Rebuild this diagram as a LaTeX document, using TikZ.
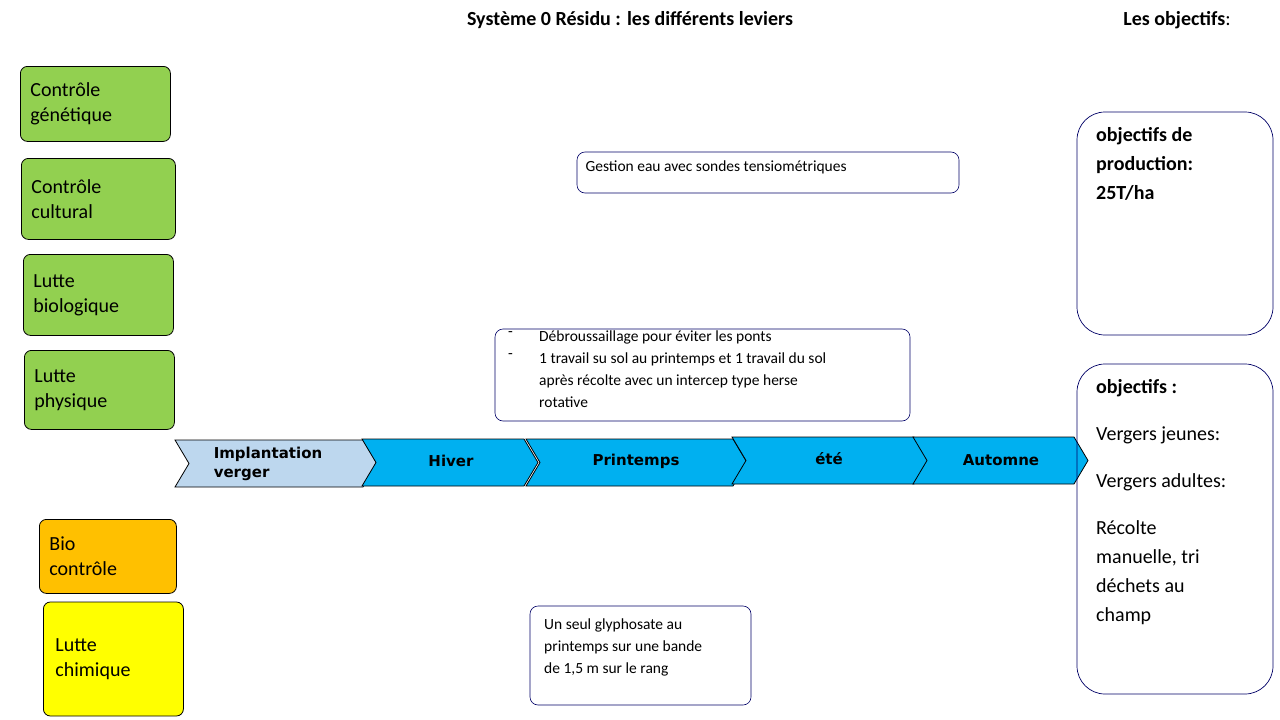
\documentclass[tikz,border=0pt]{standalone}
\usepackage{fontspec}
\setmainfont{Carlito}
\newfontfamily\verd{DejaVu Sans}
\begin{document}
\begin{tikzpicture}[x=1pt,y=-1pt,
  lev/.style={draw=black,rounded corners=7pt,line width=0.8pt,anchor=north west,align=left,font=\fontsize{20}{25}\selectfont,inner sep=10pt},
  note/.style={draw=black!60!blue,rounded corners=8pt,line width=0.6pt,anchor=north west,align=left,font=\fontsize{15.5}{22}\selectfont,inner sep=0pt},
  obj/.style={draw=black!60!blue,rounded corners=28pt,line width=0.7pt},
  chev/.style={draw=black,line width=0.8pt},
  ctext/.style={font=\verd\bfseries\fontsize{15}{19}\selectfont,align=left}]
\useasboundingbox (0,0) rectangle (1280,720);
\definecolor{lg}{RGB}{146,208,80}
\definecolor{lo}{RGB}{255,192,0}
\definecolor{ly}{RGB}{255,255,0}
\definecolor{cb}{RGB}{0,176,240}
\definecolor{pb}{RGB}{189,215,238}
\node[font=\bfseries\fontsize{20}{24}\selectfont] (title) at (630,20) {Système 0 Résidu : les différents leviers};
\node[font=\fontsize{20}{24}\selectfont] (lo) at (1177,20) {\textbf{Les objectifs}:};
% levers
\node[lev,fill=lg,minimum width=150,minimum height=75,text width=130] (g) at (20,66) {Contrôle\\génétique};
\node[lev,fill=lg,minimum width=154,minimum height=81,text width=134] (c) at (21,158) {Contrôle\\cultural};
\node[lev,fill=lg,minimum width=150,minimum height=81,text width=130] (b) at (23,254) {Lutte\\biologique};
\node[lev,fill=lg,minimum width=150,minimum height=79,text width=130] (p) at (24,350) {Lutte\\physique};
\node[lev,fill=lo,minimum width=137,minimum height=74,text width=117] (bc) at (39,519) {Bio\\contrôle};
\node[lev,fill=ly,minimum width=136,minimum height=114,text width=116,anchor=west,inner sep=12pt] (ch) at (43,659) {Lutte\\chimique};
% chevrons
\def\chevron#1#2#3#4#5#6{%
  \path[chev,fill=#6] (#1,#3) -- (#2-14,#3) -- (#2,#3/2+#4/2) -- (#2-14,#4) -- (#1,#4) -- (#1+14,#3/2+#4/2) -- cycle;}
\chevron{175}{377}{440}{487}{}{pb}
\node[ctext] (i) at (268,464) {Implantation\\verger};
\chevron{362}{538}{439}{486}{}{cb}
\node[ctext] (h) at (451,461) {Hiver};
\chevron{526}{747}{439}{486}{}{cb}
\node[ctext] (pr) at (636,461) {Printemps};
\chevron{732}{928}{437}{484}{}{cb}
\node[ctext] (e) at (829,459) {été};
\chevron{913}{1088}{437}{484}{}{cb}
\node[ctext] (a) at (1001,460) {Automne};
% notes
\draw[note] (577,152) rectangle (959,193);
\node[anchor=north west,font=\fontsize{15.5}{22}\selectfont] (n1) at (582,157) {Gestion eau avec sondes tensiométriques};
\draw[note] (495,329) rectangle (910,421);
\node[anchor=north west,font=\fontsize{15.5}{22}\selectfont,align=left,inner sep=0pt] (n2) at (508,331) {-\\-};
\node[anchor=north west,font=\fontsize{15.5}{22}\selectfont,align=left,inner sep=0pt] (n2b) at (539,331) {Débroussaillage pour éviter les ponts\\1 travail su sol au printemps et 1 travail du sol\\après récolte avec un intercep type herse\\rotative};
\draw[note] (530,606) rectangle (751,705);
\node[anchor=north west,font=\fontsize{15.5}{22}\selectfont,align=left,inner sep=0pt] (n3) at (544,619) {Un seul glyphosate au\\printemps sur une bande\\de 1,5 m sur le rang};
% objectives
\draw[obj] (1077,112) rectangle (1273,335);
\node[anchor=north west,font=\bfseries\fontsize{20}{29}\selectfont,align=left,inner sep=0pt] (o1) at (1096,127) {objectifs de\\production:\\25T/ha};
\draw[obj] (1077,364) rectangle (1273,694);
\node[anchor=north west,font=\fontsize{20}{29}\selectfont,align=left,inner sep=0pt] (o2) at (1096,379) {\textbf{objectifs :}\\[0.9em]Vergers jeunes:\\[0.9em]Vergers adultes:\\[0.9em]Récolte\\manuelle, tri\\déchets au\\champ};
\end{tikzpicture}
\end{document}
